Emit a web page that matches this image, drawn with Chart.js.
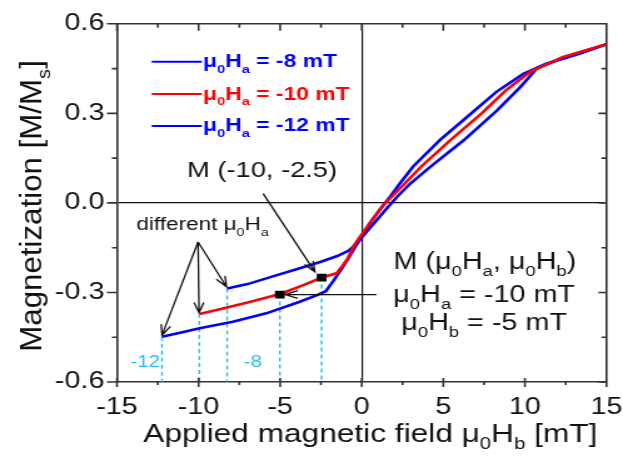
<!DOCTYPE html>
<html>
<head>
<meta charset="utf-8">
<script src="https://cdn.jsdelivr.net/npm/chart.js@4.4.1/dist/chart.umd.min.js"></script>
<style>
  html, body { margin: 0; padding: 0; background: #fff; overflow: hidden; }
  /* the original figure is drawn wide, so the chart is stretched sideways */
  #wrap { width: 498px; height: 457px; transform: scaleX(1.251); transform-origin: 0 0; }
</style>
</head>
<body>
<div id="wrap"><canvas id="chart"></canvas></div>
<script>
// curve for mu0Ha = -12 mT (blue, lowest start)
const h12 = [-12.24, -11, -9.94, -7.9, -5.85, -3.8, -2.7, -2.2, -1.75, -1.35, -0.9, -0.5, -0.15, 0.5, 1.1, 1.7, 2.35, 3.15, 4.8, 6.2, 8.25, 9.9, 11.3, 13.4, 15];
const m12 = [-0.448, -0.433, -0.420, -0.398, -0.370, -0.331, -0.308, -0.296, -0.262, -0.230, -0.193, -0.157, -0.126, -0.068, -0.023, 0.018, 0.066, 0.122, 0.211, 0.276, 0.372, 0.432, 0.466, 0.500, 0.532];

// curve for mu0Ha = -10 mT (red)
const h10 = [-9.95, -8.5, -7, -5, -3.5, -2.45, -1.55, -1.2, -0.9, -0.45, -0.1, 0.7, 1.45, 2.65, 3.65, 5.45, 7.35, 8.85, 10.35, 12.3, 15];
const m10 = [-0.372, -0.354, -0.334, -0.305, -0.274, -0.250, -0.236, -0.212, -0.190, -0.140, -0.113, -0.052, 0, 0.066, 0.122, 0.211, 0.300, 0.378, 0.440, 0.488, 0.532];

// curve for mu0Ha = -8 mT (blue, highest start)
const h8 = [-8.25, -7, -5.5, -4, -2.5, -1.5, -0.8, -0.45, -0.15, 0.35, 0.91, 1.53, 2.14, 2.96, 4.18, 6.23, 8.28, 9.7, 10.73, 12.36, 15];
const m8 = [-0.287, -0.272, -0.247, -0.222, -0.197, -0.178, -0.160, -0.143, -0.125, -0.093, -0.058, -0.019, 0.019, 0.064, 0.120, 0.209, 0.309, 0.387, 0.450, 0.487, 0.532];

// the two marked states M(Ha, Hb)
const markX = [-2.46, -5.02];
const markY = [-0.250, -0.307];

// cyan guide lines drawn down from the start points / marks
const dashX = [-12.24, -9.95, -8.25, -5.02, -2.46];
const dashY = [-0.448, -0.372, -0.287, -0.307, -0.250];

const xTicks = [-15, -10, -5, 0, 5, 10, 15];
const yTicks = [-0.6, -0.3, 0, 0.3, 0.6];

const BLUE = '#0000ff', RED = '#ff0000', CYAN = '#22c0ee';
const FAM = '"Liberation Sans", Arial, sans-serif';

function font(size, bold) { return (bold ? 'bold ' : '') + size + 'px ' + FAM; }

// text with subscripts: parts = [[text, isSub], ...]
function drawRich(ctx, parts, x, y, size, bold, align) {
  const sub = size * 0.64;
  let w = 0;
  parts.forEach(p => { ctx.font = font(p[1] ? sub : size, bold); w += ctx.measureText(p[0]).width; });
  let cx = align === 'center' ? x - w / 2 : x;
  ctx.textAlign = 'left';
  ctx.textBaseline = 'alphabetic';
  parts.forEach(p => {
    ctx.font = font(p[1] ? sub : size, bold);
    ctx.fillText(p[0], cx, p[1] ? y + size * 0.3 : y);
    cx += ctx.measureText(p[0]).width;
  });
}

function arrow(ctx, x0, y0, x1, y1) {
  const a = Math.atan2(y1 - y0, x1 - x0), L = 11, s = 0.36;
  ctx.beginPath();
  ctx.moveTo(x0, y0); ctx.lineTo(x1, y1);
  ctx.moveTo(x1 - L * Math.cos(a - s), y1 - L * Math.sin(a - s));
  ctx.lineTo(x1, y1);
  ctx.lineTo(x1 - L * Math.cos(a + s), y1 - L * Math.sin(a + s));
  ctx.stroke();
}

const toXY = (xs, ys) => xs.map((x, i) => ({ x, y: ys[i] }));

const datasets = [
  { data: toXY(markX, markY), showLine: false, pointStyle: 'rect', pointRadius: 5.5,
    backgroundColor: '#000', borderColor: '#000', borderWidth: 0 },
  { data: toXY(h10, m10), borderColor: RED, borderWidth: 2.6, pointRadius: 0 },
  { data: toXY(h8, m8), borderColor: BLUE, borderWidth: 2.6, pointRadius: 0 },
  { data: toXY(h12, m12), borderColor: BLUE, borderWidth: 2.6, pointRadius: 0 },
];
dashX.forEach((x, i) => datasets.push({
  data: [{ x, y: dashY[i] }, { x, y: -0.6 }],
  borderColor: CYAN, borderWidth: 1.4, borderDash: [4, 3], pointRadius: 0
}));

// annotation plugin: frame ticks, legend, labels, arrows, axis titles
const annot = {
  id: 'annot',
  afterDatasetsDraw(chart) {
    const { ctx, chartArea: a, scales: { x, y } } = chart;
    const px = v => x.getPixelForValue(v), py = v => y.getPixelForValue(v);
    ctx.save();

    // frame top + right, tick marks
    ctx.strokeStyle = '#333';
    ctx.lineWidth = 1.6;
    ctx.beginPath();
    ctx.moveTo(a.left, a.top); ctx.lineTo(a.right, a.top); ctx.lineTo(a.right, a.bottom);
    for (let v = -15; v <= 15.01; v += 2.5) {
      const major = Math.abs(v % 5) < 0.01, X = px(v);
      ctx.moveTo(X, a.bottom - (major ? 4 : 0)); ctx.lineTo(X, a.bottom + (major ? 5 : 3));
      ctx.moveTo(X, a.top); ctx.lineTo(X, a.top + (major ? 7 : 4));
    }
    for (let v = -0.6; v <= 0.601; v += 0.15) {
      const major = Math.abs(Math.round(v / 0.15)) % 2 === 0, Y = py(v);
      ctx.moveTo(a.left - (major ? 8 : 4), Y); ctx.lineTo(a.left, Y);
      ctx.moveTo(a.right, Y); ctx.lineTo(a.right - (major ? 6.5 : 4), Y);
    }
    ctx.stroke();

    // legend
    const leg = [[BLUE, ' = -8 mT', 0.476], [RED, ' = -10 mT', 0.368], [BLUE, ' = -12 mT', 0.261]];
    leg.forEach(l => {
      const Y = py(l[2]);
      ctx.strokeStyle = l[0]; ctx.lineWidth = 2;
      ctx.beginPath(); ctx.moveTo(px(-12.87), Y + 1); ctx.lineTo(px(-9.8), Y + 1); ctx.stroke();
      ctx.fillStyle = l[0];
      drawRich(ctx, [['μ'], ['0', 1], ['H'], ['a', 1], [l[1]]], px(-9.72), Y + 6.5, 18.3, true, 'left');
    });

    // labels
    ctx.fillStyle = '#111';
    drawRich(ctx, [['M (-10, -2.5)']], px(-10.7), py(0.086), 21.8, false, 'left');
    drawRich(ctx, [['different μ'], ['0', 1], ['H'], ['a', 1]], px(-13.81), py(-0.092), 18, false, 'left');
    drawRich(ctx, [['M (μ'], ['0', 1], ['H'], ['a', 1], [', μ'], ['0', 1], ['H'], ['b', 1], [')']], px(7.55), py(-0.222), 23, false, 'center');
    drawRich(ctx, [['μ'], ['0', 1], ['H'], ['a', 1], [' = -10 mT']], px(7.5), py(-0.333), 23, false, 'center');
    drawRich(ctx, [['μ'], ['0', 1], ['H'], ['b', 1], [' = -5 mT']], px(7.5), py(-0.426), 23, false, 'center');
    ctx.fillStyle = CYAN;
    drawRich(ctx, [['-12']], px(-14.18), py(-0.55), 16.5, false, 'left');
    drawRich(ctx, [['-8']], px(-7.23), py(-0.55), 16.5, false, 'left');

    // arrows
    ctx.strokeStyle = '#111'; ctx.lineWidth = 1.3;
    arrow(ctx, px(-10.03), py(-0.131), px(-12.24), py(-0.443));
    arrow(ctx, px(-10.03), py(-0.131), px(-9.97), py(-0.368));
    arrow(ctx, px(-10.03), py(-0.131), px(-8.29), py(-0.281));
    arrow(ctx, px(-6.04), py(0.031), px(-2.87), py(-0.231));
    arrow(ctx, px(0.91), py(-0.307), px(-4.71), py(-0.307));

    // axis titles
    ctx.fillStyle = '#111';
    drawRich(ctx, [['Applied magnetic field μ'], ['0', 1], ['H'], ['b', 1], [' [mT]']], 296, 441.5, 25.3, false, 'center');
    ctx.translate(33, 206);
    ctx.rotate(-Math.PI / 2);
    ctx.scale(1.36, 1);
    drawRich(ctx, [['Magnetization [M/M'], ['s', 1], [']']], 0, 0, 23, false, 'center');
    ctx.restore();
  }
};

new Chart(document.getElementById('chart'), {
  type: 'line',
  data: { datasets },
  options: {
    responsive: true,
    maintainAspectRatio: false,
    animation: false,
    devicePixelRatio: 1,
    layout: { padding: { left: 0, right: 0, top: 23, bottom: 0 } },
    plugins: { legend: { display: false }, tooltip: { enabled: false } },
    elements: { line: { tension: 0 } },
    scales: {
      x: {
        type: 'linear', min: -15, max: 15,
        afterBuildTicks: s => { s.ticks = xTicks.map(v => ({ value: v })); },
        // fixed height; keep the right edge where the frame sits in the figure
        afterFit: s => { s.height = 75; s.paddingLeft = 0; s.paddingRight = 13.2; },
        ticks: { font: { size: 23, family: FAM }, color: '#111', padding: 12 },
        grid: { drawTicks: false, lineWidth: 1.2, color: c => (c.tick && c.tick.value === 0 ? '#111' : 'rgba(0,0,0,0)') },
        border: { display: true, color: '#333', width: 1.6 }
      },
      y: {
        min: -0.6, max: 0.6,
        afterBuildTicks: s => { s.ticks = yTicks.map(v => ({ value: v })); },
        afterFit: s => { s.width = 93.5; },
        ticks: { font: { size: 23, family: FAM }, color: '#111', padding: 10, callback: v => v.toFixed(1) },
        grid: { drawTicks: false, lineWidth: 1.2, color: c => (c.tick && c.tick.value === 0 ? '#111' : 'rgba(0,0,0,0)') },
        border: { display: true, color: '#333', width: 1.6 }
      }
    }
  },
  plugins: [annot]
});
</script>
</body>
</html>
